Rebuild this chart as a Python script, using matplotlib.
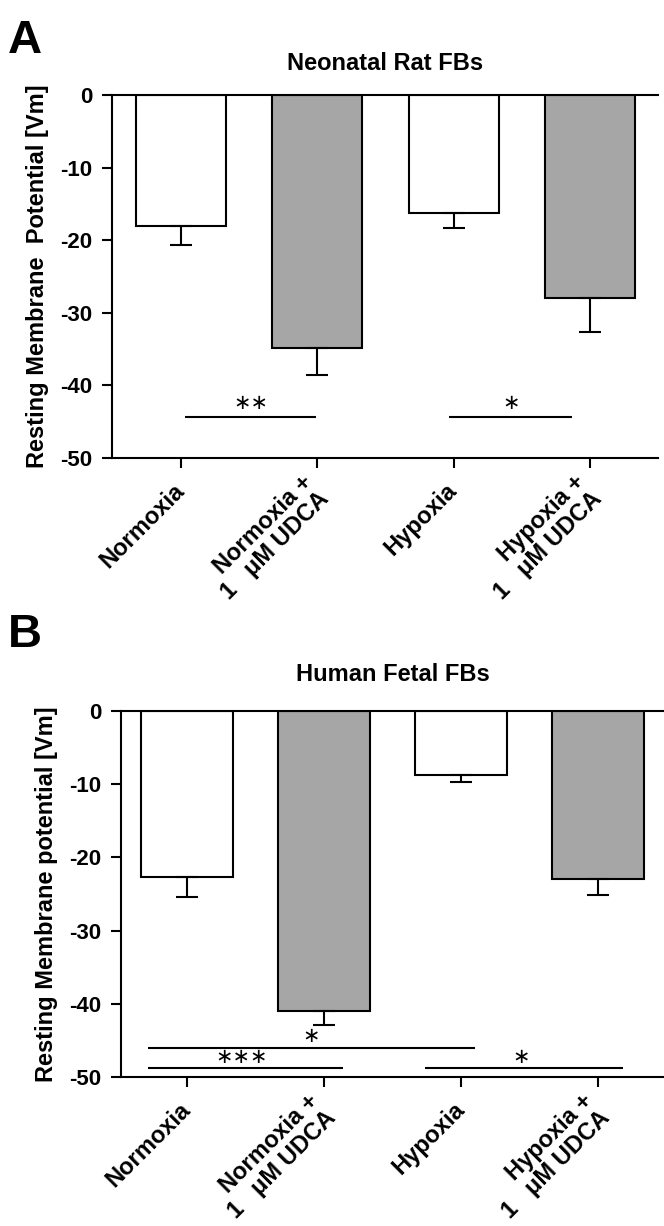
import matplotlib
matplotlib.use("Agg")
import matplotlib.pyplot as plt
import numpy as np

# data
groups = ["Normoxia", "Normoxia +\n1   \u03bcM UDCA", "Hypoxia", "Hypoxia +\n1   \u03bcM UDCA"]
bar_colors = ["white", "#a6a6a6", "white", "#a6a6a6"]

rat_mean = [-18.1, -34.8, -16.3, -28.0]
rat_sem = [2.5, 3.8, 2.0, 4.7]

fetal_mean = [-22.7, -41.0, -8.7, -23.0]
fetal_sem = [2.7, 1.9, 1.05, 2.1]

# significance brackets: (x start, x end, y, label, label x, label y)
rat_sig = [(0.03, 0.99, -44.4, "\u2217\u2217", 0.51, -42.4),
           (1.97, 2.87, -44.4, "\u2217", 2.42, -42.4)]
fetal_sig = [(-0.28, 2.10, -46.0, "\u2217", 0.91, -44.4),
             (-0.28, 1.14, -48.7, "\u2217\u2217\u2217", 0.40, -47.2),
             (1.74, 3.18, -48.7, "\u2217", 2.44, -47.2)]

font = ["Liberation Sans", "DejaVu Sans"]


def draw_panel(ax, means, sems, sig, title, ylabel, xlim, width, title_pad):
    x = np.arange(len(groups))
    lower = np.array(sems)
    ax.bar(x, means, width=width, color=bar_colors, edgecolor="black", linewidth=1.5, zorder=2)
    ax.errorbar(x, np.array(means), yerr=[lower, np.zeros_like(lower)], fmt="none",
                ecolor="black", elinewidth=1.5, capsize=8, capthick=1.5, zorder=3)
    for x0, x1, y, lab, lx, ly in sig:
        ax.plot([x0, x1], [y, y], color="black", lw=1.5, solid_capstyle="butt")
        ax.text(lx, ly, lab, ha="center", va="center", fontsize=15, family="DejaVu Sans")

    ax.set_xlim(*xlim)
    ax.set_ylim(-50, 0)
    ax.set_yticks([0, -10, -20, -30, -40, -50])
    ax.set_yticklabels(["0", "-10", "-20", "-30", "-40", "-50"],
                       fontsize=16, fontweight="bold", family=font)
    ax.set_xticks(x)
    ax.set_xticklabels(groups, rotation=45, ha="right", va="center", rotation_mode="anchor",
                       fontsize=17, fontweight="bold", family=font, multialignment="right",
                       linespacing=1.05)
    ax.tick_params(axis="both", direction="out", length=7, width=1.5)
    ax.tick_params(axis="y", pad=7)
    ax.tick_params(axis="x", pad=14)
    for s in ["left", "bottom", "top"]:
        ax.spines[s].set_linewidth(1.5)
    ax.spines["right"].set_visible(False)
    ax.set_title(title, fontsize=17, fontweight="bold", family=font, pad=title_pad)
    ax.set_ylabel(ylabel, fontsize=17, fontweight="bold", family=font, labelpad=8)


fig = plt.figure(figsize=(6.64, 12.26), dpi=100)

axA = fig.add_axes([0.1687, 0.6264, 0.8223, 0.2961])
draw_panel(axA, rat_mean, rat_sem, rat_sig, "Neonatal Rat FBs",
           "Resting Membrane  Potential [Vm]", (-0.505, 3.5), 0.66, 18)

axB = fig.add_axes([0.1822, 0.1215, 0.8178, 0.2985])
draw_panel(axB, fetal_mean, fetal_sem, fetal_sig, "Human Fetal FBs",
           "Resting Membrane potential [Vm]", (-0.48, 3.48), 0.67, 22)

fig.text(0.012, 0.957, "A", fontsize=34, fontweight="bold", family=font)
fig.text(0.012, 0.472, "B", fontsize=34, fontweight="bold", family=font)

fig.savefig("out.png", dpi=100)
